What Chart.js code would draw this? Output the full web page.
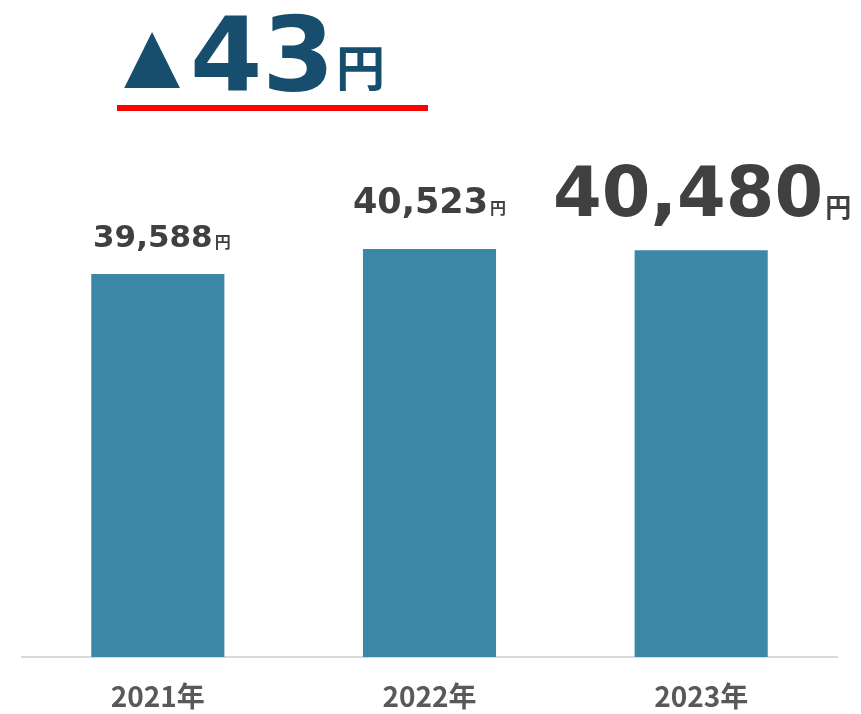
<!DOCTYPE html>
<html lang="ja">
<head>
<meta charset="utf-8">
<script src="https://cdn.jsdelivr.net/npm/chart.js@4.4.1/dist/chart.umd.min.js"></script>
<style>
  html, body { margin: 0; padding: 0; background: #fff; }
  #wrap { width: 861px; height: 714px; position: relative; }
</style>
</head>
<body>
<div id="wrap"><canvas id="priceChart"></canvas></div>
<script>
// data
const years = ['2021年', '2022年', '2023年'];
const prices = [39588, 40523, 40480];
const diffText = '43';
const yenText = '円';

// per-bar label look (sizes in px, gap above bar)
const labelStyles = [
  { num: 31, yen: 16, gap: 27, dx: 3 },
  { num: 35, yen: 16, gap: 36, dx: -1 },
  { num: 70, yen: 26, gap: 34, dx: 0 }
];

const valueLabels = {
  id: 'valueLabels',
  afterDatasetsDraw(chart) {
    const ctx = chart.ctx;
    const bars = chart.getDatasetMeta(0).data;
    bars.forEach(function (bar, i) {
      const st = labelStyles[i];
      const num = prices[i].toLocaleString('en-US');
      ctx.save();
      ctx.fillStyle = '#404040';
      ctx.textBaseline = 'alphabetic';
      ctx.textAlign = 'left';
      ctx.font = 'bold ' + st.num + 'px "DejaVu Sans"';
      const w1 = ctx.measureText(num).width;
      ctx.font = 'bold ' + st.yen + 'px "Noto Sans CJK JP"';
      const w2 = ctx.measureText(yenText).width;
      const x0 = bar.x - (w1 + w2) / 2 + st.dx;
      const y = bar.y - st.gap;
      ctx.font = 'bold ' + st.num + 'px "DejaVu Sans"';
      ctx.fillText(num, x0, y);
      ctx.font = 'bold ' + st.yen + 'px "Noto Sans CJK JP"';
      ctx.fillText(yenText, x0 + w1 + 2, y + 1);
      ctx.restore();
    });
  }
};

// headline "▲43円" with red underline
const headline = {
  id: 'headline',
  afterDraw(chart) {
    const ctx = chart.ctx;
    ctx.save();
    ctx.fillStyle = '#174e6e';
    ctx.textBaseline = 'alphabetic';
    ctx.font = '73px "DejaVu Sans"';
    ctx.fillText('▲', 124, 79);
    ctx.font = 'bold 104px "DejaVu Sans"';
    ctx.fillText(diffText, 190, 91);
    ctx.font = 'bold 49px "Noto Sans CJK JP"';
    ctx.fillText(yenText, 336, 86);
    ctx.fillStyle = '#ff0000';
    ctx.fillRect(117, 105, 311, 6);
    ctx.restore();
  }
};

document.addEventListener('DOMContentLoaded', function () {
  const ctx = document.getElementById('priceChart').getContext('2d');
  new Chart(ctx, {
    type: 'bar',
    data: {
      labels: years,
      datasets: [{
        data: prices,
        backgroundColor: '#3c87a6',
        categoryPercentage: 1.0,
        barPercentage: 0.49
      }]
    },
    options: {
      responsive: true,
      maintainAspectRatio: false,
      animation: false,
      layout: { padding: { top: 140, left: 22, right: 24, bottom: 0 } },
      plugins: {
        legend: { display: false },
        tooltip: { enabled: false }
      },
      scales: {
        x: {
          grid: { display: false },
          border: { display: true, color: '#d9d9d9', width: 2 },
          ticks: {
            color: '#595959',
            padding: 15,
            font: { family: '"Noto Sans CJK JP"', weight: 'bold', size: 28 }
          },
          afterFit: function (axis) { axis.height = 57; }
        },
        y: {
          display: false,
          min: 25265,
          max: 44600
        }
      }
    },
    plugins: [valueLabels, headline]
  });
});
</script>
</body>
</html>
